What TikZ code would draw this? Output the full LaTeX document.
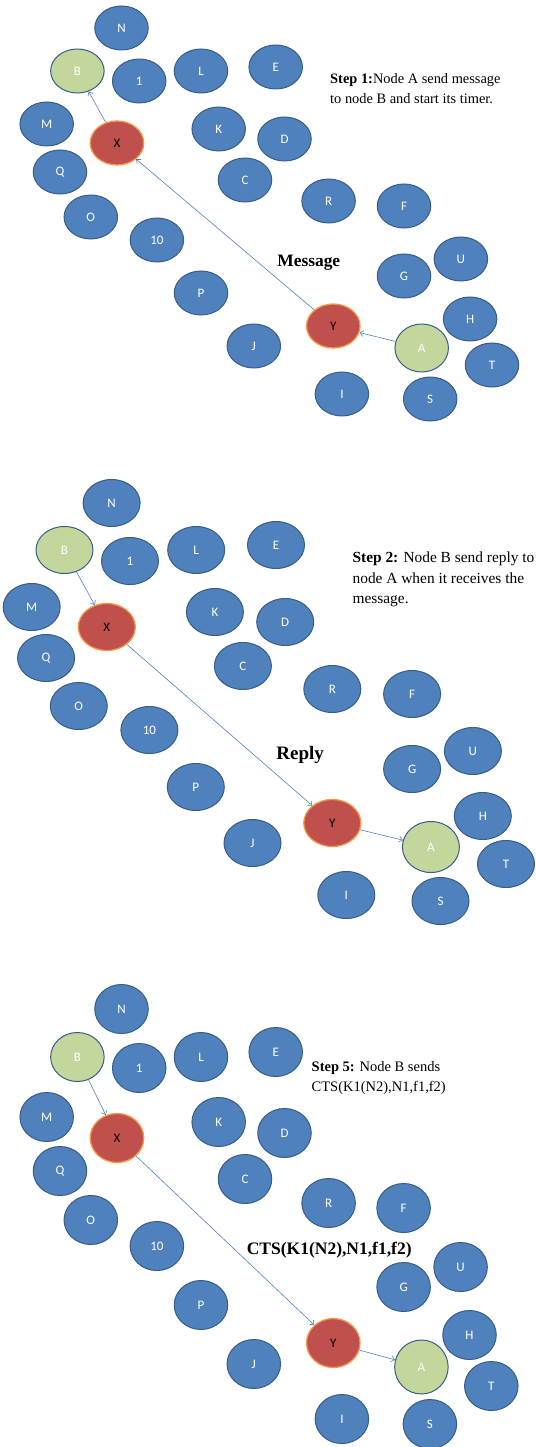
\documentclass[tikz,border=0pt]{standalone}
\usepackage{fontspec}
\setmainfont{Liberation Serif}
\newfontfamily\nodefont{Carlito}
\usetikzlibrary{shapes.geometric,arrows.meta}
\definecolor{nodeblue}{HTML}{4F81BD}
\definecolor{nodeedge}{HTML}{385D8A}
\definecolor{nodegreen}{HTML}{C3D69B}
\definecolor{nodered}{HTML}{C0504D}
\definecolor{rededge}{HTML}{F79646}
\tikzset{
  x=1pt, y=-1pt,
  circ/.style={ellipse, inner sep=0pt, minimum width=53.5pt, minimum height=44pt,
    font=\nodefont\fontsize{13}{15}\selectfont},
  bluenode/.style={circ, fill=nodeblue, draw=nodeedge, line width=1pt, text=white},
  greennode/.style={circ, fill=nodegreen, draw=nodeedge, line width=1pt, text=white},
  rednode/.style={circ, fill=nodered, draw=rededge, line width=1.3pt, text=black},
  link/.style={draw=nodeblue, line width=0.6pt, -{Straight Barb[length=3.5pt,width=6pt]}},
  steptext/.style={anchor=north west, align=left, inner sep=0pt, font=\fontsize{14.4}{20}\selectfont},
  msglabel/.style={inner sep=0pt, font=\bfseries\fontsize{17.4}{20}\selectfont},
}
\begin{document}
\begin{tikzpicture}
\useasboundingbox (0,0) rectangle (535,1447);

% ---------- Step 1 ----------
\begin{scope}
\foreach \n/\x/\y in {N/121.5/28, 1/139.2/81, L/201/71, E/275.7/67, M/46.7/124, K/218.7/129,
  D/284.5/139, Q/60/172, C/245/180, R/328.6/201, F/404/206, O/90.8/217, 10/156.9/240,
  U/460.9/259, G/404/276, P/201/293, H/470.1/319, J/253.8/346, T/492/365, I/341.9/394, S/430.2/399}
  \node[bluenode] (p1-\n) at (\x,\y) {\n};
\node[greennode] (p1-B) at (77.4,71) {B};
\node[greennode, minimum height=48pt] (p1-A) at (421.7,348) {A};
\node[rednode] (p1-X) at (117,143) {X};
\node[rednode] (p1-Y) at (333.3,326) {Y};
\draw[link] (p1-A) -- (p1-Y);
\draw[link] (p1-Y) -- (p1-X);
\draw[link] (p1-X) -- (p1-B);
\node[msglabel] (p1-lbl) at (308.8,263) {Message};
\node[steptext] (p1-txt) at (330,73) {\textbf{Step 1:}Node A send message\\to node B and start its timer.};
\end{scope}

% ---------- Step 2 ----------
\begin{scope}[circ/.append style={minimum width=57pt, minimum height=47pt}]
\foreach \n/\x/\y in {N/111.6/503, 1/130/561, L/196.2/550, E/276/545, M/31.7/607, K/214.9/612,
  D/285.2/622, Q/46.1/658, C/242.9/666, R/332.3/689, F/412.1/694, O/78.8/706, 10/149.4/730,
  U/472.9/751, G/412.1/769, P/195.8/787, H/482.8/816, J/252.5/843, T/506/864, I/346.3/895, S/440.5/901}
  \node[bluenode] (p2-\n) at (\x,\y) {\n};
\node[greennode] (p2-B) at (64.5,550) {B};
\node[greennode, minimum height=51pt] (p2-A) at (430.9,847) {A};
\node[rednode] (p2-X) at (106.8,627) {X};
\node[rednode] (p2-Y) at (332.3,823) {Y};
\draw[link] (p2-B) -- (p2-X);
\draw[link] (p2-X) -- (p2-Y);
\draw[link] (p2-Y) -- (p2-A);
\node[msglabel, font=\bfseries\fontsize{19}{20}\selectfont] (p2-lbl) at (300.2,755) {Reply};
\node[steptext, font=\fontsize{15.4}{20.5}\selectfont] (p2-txt) at (352.4,552) {\textbf{Step 2:} Node B send reply to\\node A when it receives the\\message.};
\end{scope}

% ---------- Step 5 ----------
\begin{scope}[circ/.append style={minimum width=53.5pt, minimum height=49pt}]
\foreach \n/\x/\y in {N/121.5/1009, 1/139.2/1068, L/201/1057, E/275.7/1052, M/46.7/1117, K/218.7/1122,
  D/284.5/1133, Q/60/1171, C/245/1179, R/328.6/1203, F/403.6/1208, O/90.8/1220, 10/156.9/1246,
  U/460.6/1267, G/403.6/1287, P/201/1305, H/469.5/1335, J/253.8/1364, T/491.3/1386, I/341.9/1419, S/429.9/1424}
  \node[bluenode] (p3-\n) at (\x,\y) {\n};
\node[greennode] (p3-B) at (77.4,1057) {B};
\node[greennode, minimum height=54pt] (p3-A) at (421.4,1367) {A};
\node[rednode] (p3-X) at (117,1138) {X};
\node[rednode] (p3-Y) at (333.3,1343) {Y};
\draw[link] (p3-B) -- (p3-X);
\draw[link] (p3-X) -- (p3-Y);
\draw[link] (p3-Y) -- (p3-A);
\node[msglabel, font=\bfseries\fontsize{17.5}{20}\selectfont] (p3-lbl) at (329.2,1250) {CTS(K1(N2),N1,f1,f2)};
\node[steptext, font=\fontsize{14.5}{20.5}\selectfont] (p3-txt) at (311.5,1061) {\textbf{Step 5:} Node B sends\\CTS(K1(N2),N1,f1,f2)};
\end{scope}
\end{tikzpicture}
\end{document}
